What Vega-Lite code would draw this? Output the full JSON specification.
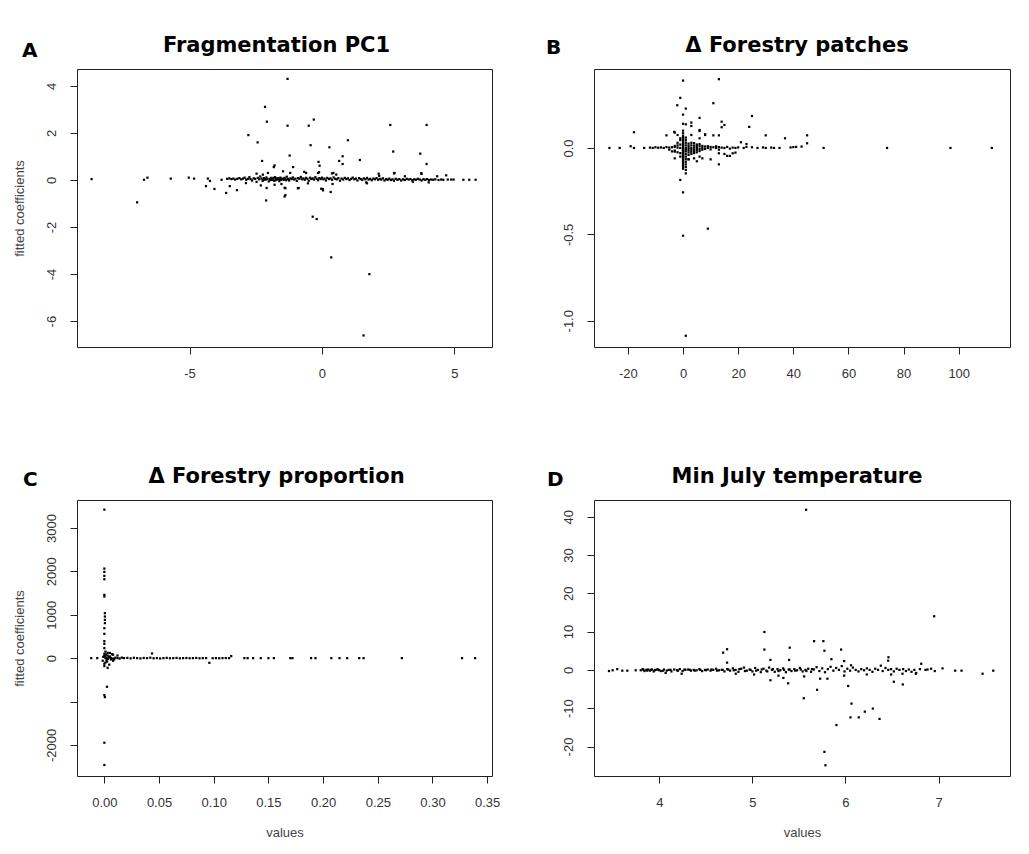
{
"$schema": "https://vega.github.io/schema/vega-lite/v6.json",
"background": "white",
"padding": {"left": 12, "top": 34, "right": 0, "bottom": 0},
"config": {
  "view": {"stroke": "#222", "strokeWidth": 1},
  "axis": {"grid": false, "domain": false, "tickColor": "#222", "tickSize": 7, "tickWidth": 1,
    "labelFont": "Liberation Sans", "labelFontSize": 13, "labelColor": "#333",
    "titleFont": "Liberation Sans", "titleFontSize": 13, "titleFontWeight": "normal", "titleColor": "#444"},
  "axisX": {"labelPadding": 13, "titlePadding": 17},
  "axisY": {"labelAngle": 270, "labelAlign": "center", "labelBaseline": "bottom", "labelPadding": 12, "titlePadding": 19},
  "title": {"font": "DejaVu Sans", "fontWeight": "bold", "fontSize": 21, "color": "black", "offset": 13},
  "point": {"shape": "square", "size": 5, "filled": true, "color": "black", "opacity": 1}
},
"columns": 2,
"spacing": {"column": 45, "row": 84},
"datasets": {
"A": [
{"x":-8.70,"y":0.04},{"x":-6.98,"y":-0.95},{"x":-6.72,"y":0.01},{"x":-6.59,"y":0.10},{"x":-5.71,"y":0.06},{"x":-5.03,"y":0.10},{"x":-4.83,"y":0.06},{"x":-4.31,"y":0.06},{"x":-4.23,"y":-0.04},{"x":-4.38,"y":-0.26},{"x":-4.06,"y":-0.38},{"x":-3.79,"y":0.01},{"x":-3.62,"y":-0.55},{"x":-3.48,"y":-0.26},{"x":-3.21,"y":-0.43},{"x":-2.78,"y":1.91},{"x":-2.43,"y":1.60},{"x":-2.26,"y":0.81},{"x":-2.15,"y":3.11},{"x":-2.08,"y":2.48},{"x":-2.11,"y":-0.87},{"x":-1.82,"y":0.55},{"x":-1.79,"y":0.62},{"x":-1.30,"y":4.30},{"x":-1.30,"y":2.31},{"x":-1.22,"y":1.04},{"x":-1.09,"y":0.55},{"x":-1.41,"y":-0.70},{"x":-1.41,"y":-0.33},{"x":-0.88,"y":-0.34},{"x":-0.50,"y":2.31},{"x":-0.43,"y":1.48},{"x":-0.31,"y":2.57},{"x":-0.35,"y":-1.56},{"x":-0.20,"y":-1.66},{"x":-0.13,"y":0.77},{"x":-0.09,"y":0.61},{"x":-0.03,"y":-0.37},{"x":0.04,"y":-0.44},{"x":0.28,"y":1.39},{"x":0.35,"y":-3.29},{"x":0.33,"y":-0.51},{"x":0.65,"y":0.81},{"x":0.78,"y":1.01},{"x":0.78,"y":0.68},{"x":0.98,"y":1.69},{"x":1.43,"y":0.85},{"x":1.57,"y":-6.61},{"x":1.79,"y":-4.00},{"x":2.58,"y":2.34},{"x":2.69,"y":1.21},{"x":2.72,"y":0.28},{"x":3.71,"y":1.12},{"x":3.76,"y":0.26},{"x":3.95,"y":2.34},{"x":3.95,"y":0.68},{"x":4.35,"y":0.16},{"x":4.69,"y":0.20},{"x":4.88,"y":0.02},{"x":4.97,"y":0.02},{"x":5.34,"y":0.01},{"x":5.56,"y":0.01},{"x":5.80,"y":0.01},
{"x":-2.47,"y":0.27},{"x":-2.23,"y":0.23},{"x":-2.04,"y":0.30},{"x":-1.47,"y":0.37},{"x":-2.87,"y":-0.13},{"x":-2.31,"y":-0.23},{"x":-2.09,"y":-0.34},{"x":-1.79,"y":-0.20},{"x":-1.53,"y":-0.17},{"x":-0.67,"y":0.35},{"x":-0.11,"y":0.33},{"x":0.43,"y":0.30},{"x":0.54,"y":0.23},{"x":1.67,"y":-0.10},{"x":2.16,"y":0.18},{"x":3.13,"y":0.16},{"x":3.43,"y":-0.07},{"x":4.03,"y":-0.10},
{"x":-1.38,"y":-0.35},{"x":-1.38,"y":-0.64},{"x":-0.91,"y":-0.35},{"x":0.03,"y":-0.38},{"x":0.40,"y":-0.17},{"x":-0.53,"y":-0.14},{"x":1.70,"y":-0.14},{"x":-1.20,"y":0.30},{"x":-0.60,"y":0.30},{"x":-0.15,"y":0.30},{"x":0.38,"y":0.28},{"x":2.14,"y":0.27},{"x":2.74,"y":0.30},{"x":3.75,"y":0.29},
{"x":-3.58,"y":0.05},{"x":-3.50,"y":0.07},{"x":-3.42,"y":0.04},{"x":-3.35,"y":0.06},{"x":-3.28,"y":0.02},{"x":-3.20,"y":0.05},{"x":-3.12,"y":0.08},{"x":-3.05,"y":0.03},{"x":-2.98,"y":0.06},{"x":-2.92,"y":0.10},{"x":-2.86,"y":0.01},{"x":-2.80,"y":0.05},{"x":-2.74,"y":0.12},{"x":-2.70,"y":0.04},{"x":-2.64,"y":-0.02},{"x":-2.58,"y":0.07},{"x":-2.52,"y":0.05},{"x":-2.47,"y":-0.08},{"x":-2.42,"y":0.09},{"x":-2.37,"y":0.03},{"x":-2.33,"y":0.15},{"x":-2.28,"y":0.06},{"x":-2.24,"y":-0.04},{"x":-2.19,"y":0.08},{"x":-2.15,"y":0.02},{"x":-2.10,"y":0.11},{"x":-2.06,"y":0.05},{"x":-2.01,"y":-0.06},{"x":-1.97,"y":0.04},{"x":-1.93,"y":0.09},{"x":-1.89,"y":0.01},{"x":-1.85,"y":0.07},{"x":-1.81,"y":-0.03},{"x":-1.77,"y":0.12},{"x":-1.73,"y":0.05},{"x":-1.69,"y":0.02},{"x":-1.65,"y":0.08},{"x":-1.61,"y":-0.05},{"x":-1.57,"y":0.10},{"x":-1.53,"y":0.04},{"x":-1.49,"y":0.06},{"x":-1.45,"y":0.00},{"x":-1.41,"y":0.09},{"x":-1.37,"y":0.03},{"x":-1.33,"y":0.14},{"x":-1.28,"y":0.05},{"x":-1.24,"y":-0.02},{"x":-1.19,"y":0.07},{"x":-1.14,"y":0.04},{"x":-1.10,"y":0.11},{"x":-1.05,"y":0.02},{"x":-1.00,"y":0.06},{"x":-0.95,"y":-0.04},{"x":-0.90,"y":0.08},{"x":-0.85,"y":0.05},{"x":-0.80,"y":0.13},{"x":-0.75,"y":0.03},{"x":-0.70,"y":0.07},{"x":-0.65,"y":0.01},{"x":-0.60,"y":0.09},{"x":-0.55,"y":0.05},{"x":-0.50,"y":-0.03},{"x":-0.45,"y":0.10},{"x":-0.40,"y":0.04},{"x":-0.35,"y":0.07},{"x":-0.30,"y":0.02},{"x":-0.25,"y":0.12},{"x":-0.20,"y":0.05},{"x":-0.15,"y":-0.01},{"x":-0.10,"y":0.08},{"x":-0.05,"y":0.04},{"x":0.00,"y":0.10},{"x":0.05,"y":0.03},{"x":0.10,"y":0.06},{"x":0.15,"y":-0.02},{"x":0.20,"y":0.09},{"x":0.26,"y":0.04},{"x":0.32,"y":0.07},{"x":0.38,"y":0.01},{"x":0.44,"y":0.11},{"x":0.50,"y":0.05},{"x":0.56,"y":0.03},{"x":0.62,"y":0.08},{"x":0.68,"y":-0.03},{"x":0.74,"y":0.06},{"x":0.80,"y":0.02},{"x":0.86,"y":0.09},{"x":0.92,"y":0.04},{"x":0.98,"y":0.07},{"x":1.04,"y":0.00},{"x":1.10,"y":0.05},{"x":1.16,"y":0.10},{"x":1.22,"y":0.03},{"x":1.28,"y":0.06},{"x":1.34,"y":-0.02},{"x":1.40,"y":0.08},{"x":1.46,"y":0.04},{"x":1.52,"y":0.01},{"x":1.58,"y":0.07},{"x":1.64,"y":0.03},{"x":1.70,"y":0.09},{"x":1.76,"y":0.02},{"x":1.82,"y":0.05},{"x":1.88,"y":-0.01},{"x":1.94,"y":0.06},{"x":2.00,"y":0.03},{"x":2.06,"y":0.08},{"x":2.12,"y":0.01},{"x":2.18,"y":0.05},{"x":2.24,"y":0.02},{"x":2.30,"y":0.07},{"x":2.36,"y":-0.02},{"x":2.42,"y":0.04},{"x":2.48,"y":0.01},{"x":2.54,"y":0.06},{"x":2.60,"y":0.00},{"x":2.66,"y":0.03},{"x":2.72,"y":-0.03},{"x":2.78,"y":0.05},{"x":2.85,"y":0.01},{"x":2.92,"y":0.04},{"x":2.99,"y":-0.02},{"x":3.06,"y":0.03},{"x":3.13,"y":0.00},{"x":3.20,"y":0.05},{"x":3.27,"y":0.02},{"x":3.34,"y":0.04},{"x":3.41,"y":-0.01},{"x":3.48,"y":0.03},{"x":3.55,"y":0.01},{"x":3.62,"y":0.05},{"x":3.69,"y":0.02},{"x":3.76,"y":-0.02},{"x":3.83,"y":0.03},{"x":3.90,"y":0.01},{"x":3.97,"y":0.04},{"x":4.04,"y":0.00},{"x":4.12,"y":0.02},{"x":4.20,"y":0.01},{"x":4.28,"y":0.03},{"x":4.40,"y":0.00},{"x":4.50,"y":0.02},{"x":4.58,"y":0.01},{"x":4.75,"y":0.02},
{"x":-1.95,"y":0.00},{"x":-1.87,"y":0.03},{"x":-1.75,"y":-0.01},{"x":-1.63,"y":0.04},{"x":-1.55,"y":0.01},{"x":-1.43,"y":0.05},{"x":-1.35,"y":-0.01},{"x":-1.25,"y":0.02},{"x":-2.12,"y":0.03},{"x":-2.22,"y":0.01},{"x":-1.83,"y":0.09},{"x":-1.71,"y":0.06}
],
"B": [
{"x":-26.7,"y":0},{"x":-23.0,"y":0},{"x":-19.0,"y":0.01},{"x":-17.8,"y":0.0},{"x":-17.8,"y":0.091},{"x":-14.1,"y":0.0},{"x":-6.0,"y":0.073},{"x":-3.2,"y":0.093},{"x":-2.1,"y":0.247},{"x":-1.0,"y":0.29},{"x":0,"y":0.39},{"x":0,"y":0.193},{"x":1,"y":0.228},{"x":0,"y":0.14},{"x":0,"y":0.10},{"x":1,"y":0.137},{"x":3,"y":0.075},{"x":3,"y":0.147},{"x":3,"y":0.127},{"x":6,"y":0.174},{"x":6,"y":0.104},{"x":6,"y":0.056},{"x":8,"y":0.079},{"x":11,"y":0.259},{"x":13,"y":0.398},{"x":11,"y":0.073},{"x":13,"y":0.073},{"x":14,"y":0.152},{"x":15,"y":0.133},{"x":14,"y":0.120},{"x":24,"y":0.122},{"x":25,"y":0.185},{"x":30,"y":0.073},{"x":37,"y":0.056},{"x":45,"y":0.073},{"x":45,"y":0.027},{"x":43,"y":0.008},{"x":40,"y":0.005},{"x":41,"y":0.006},{"x":51,"y":0},{"x":74,"y":0},{"x":97,"y":0},{"x":112,"y":0},
{"x":-3,"y":-0.06},{"x":-1,"y":-0.185},{"x":0,"y":-0.257},{"x":0,"y":-0.508},{"x":9,"y":-0.467},{"x":1,"y":-1.087},{"x":1,"y":-0.147},{"x":1,"y":-0.127},{"x":5,"y":-0.077},{"x":6,"y":-0.05},{"x":10,"y":-0.066},{"x":13,"y":-0.095},{"x":15,"y":-0.035},{"x":17,"y":-0.046},{"x":19,"y":-0.027},{"x":2,"y":-0.066},{"x":21,"y":0.033},{"x":23,"y":0.023},{"x":-3,"y":-0.021},{"x":-3,"y":0.089},{"x":-2,"y":0.075},{"x":-1,"y":0.056},{"x":6,"y":0.098},{"x":8,"y":0.075},{"x":7,"y":-0.06},{"x":2,"y":-0.065},{"x":4,"y":-0.06},{"x":13,"y":-0.031},{"x":16,"y":-0.046},{"x":18,"y":-0.031},
{"x":-12,"y":0.002},{"x":-11,"y":0.0},{"x":-10,"y":0.004},{"x":-9,"y":0.001},{"x":-8,"y":0.003},{"x":-7,"y":0.0},{"x":-6,"y":0.005},{"x":-5,"y":0.002},{"x":-5,"y":-0.01},{"x":-4,"y":0.004},{"x":-4,"y":-0.02},{"x":-3,"y":0.006},{"x":-3,"y":0.012},{"x":-3,"y":-0.015},{"x":-2,"y":0.002},{"x":-2,"y":0.015},{"x":-2,"y":-0.025},{"x":-2,"y":0.03},{"x":-1,"y":0.0},{"x":-1,"y":0.02},{"x":-1,"y":-0.03},{"x":-1,"y":0.045},{"x":-1,"y":-0.05},
{"x":0,"y":0.085},{"x":0,"y":0.07},{"x":0,"y":0.06},{"x":0,"y":0.05},{"x":0,"y":0.04},{"x":0,"y":0.03},{"x":0,"y":0.02},{"x":0,"y":0.01},{"x":0,"y":0.0},{"x":0,"y":-0.01},{"x":0,"y":-0.02},{"x":0,"y":-0.03},{"x":0,"y":-0.04},{"x":0,"y":-0.05},{"x":0,"y":-0.06},{"x":0,"y":-0.07},{"x":0,"y":-0.08},{"x":0,"y":-0.09},{"x":0,"y":-0.10},{"x":0,"y":-0.11},{"x":0,"y":-0.12},{"x":0,"y":0.015},{"x":0,"y":-0.005},{"x":0,"y":-0.015},{"x":0,"y":-0.025},{"x":0,"y":-0.035},{"x":0,"y":-0.045},{"x":0,"y":-0.055},
{"x":1,"y":0.06},{"x":1,"y":0.045},{"x":1,"y":0.03},{"x":1,"y":0.015},{"x":1,"y":0.0},{"x":1,"y":-0.01},{"x":1,"y":-0.02},{"x":1,"y":-0.035},{"x":1,"y":-0.05},{"x":1,"y":-0.065},{"x":1,"y":-0.08},{"x":1,"y":-0.095},{"x":1,"y":-0.11},
{"x":2,"y":0.025},{"x":2,"y":0.012},{"x":2,"y":0.0},{"x":2,"y":-0.012},{"x":2,"y":-0.025},{"x":2,"y":-0.04},
{"x":3,"y":0.03},{"x":3,"y":0.015},{"x":3,"y":0.0},{"x":3,"y":-0.01},{"x":3,"y":-0.022},{"x":3,"y":-0.035},
{"x":4,"y":0.028},{"x":4,"y":0.014},{"x":4,"y":0.002},{"x":4,"y":-0.01},{"x":4,"y":-0.02},{"x":4,"y":-0.03},
{"x":5,"y":0.02},{"x":5,"y":0.01},{"x":5,"y":0.0},{"x":5,"y":-0.012},{"x":5,"y":-0.025},
{"x":6,"y":0.022},{"x":6,"y":0.01},{"x":6,"y":-0.005},{"x":6,"y":-0.018},
{"x":7,"y":0.012},{"x":7,"y":0.0},{"x":7,"y":-0.01},{"x":8,"y":0.008},{"x":8,"y":-0.006},{"x":9,"y":0.01},{"x":9,"y":0.0},{"x":10,"y":0.006},{"x":10,"y":-0.008},{"x":11,"y":0.004},{"x":12,"y":0.0},{"x":12,"y":0.01},{"x":13,"y":0.005},{"x":13,"y":-0.01},{"x":14,"y":0.002},{"x":15,"y":0.0},{"x":16,"y":0.006},{"x":17,"y":-0.004},{"x":18,"y":0.002},{"x":19,"y":0.0},{"x":20,"y":0.003},{"x":22,"y":0.0},{"x":23,"y":0.006},{"x":25,"y":0.004},{"x":27,"y":0.0},{"x":29,"y":0.003},{"x":30,"y":0.0},{"x":32,"y":0.002},{"x":33,"y":0.0},{"x":35,"y":0.0},{"x":39,"y":0.003}
],
"C": [
{"x":0.0,"y":3422},{"x":0.0,"y":2064},{"x":0.0,"y":1987},{"x":0.0,"y":1895},{"x":0.0,"y":1818},{"x":0.0,"y":1458},{"x":0.0,"y":1420},{"x":0.0005,"y":1036},{"x":0.0005,"y":959},{"x":0.0005,"y":882},{"x":0.0005,"y":806},{"x":0.0,"y":690},{"x":0.0,"y":560},{"x":0.0,"y":391},{"x":0.0,"y":330},{"x":0.0,"y":230},{"x":0.0,"y":100},{"x":0.0024,"y":-660},{"x":0.0,"y":-852},{"x":0.0005,"y":-898},{"x":0.0,"y":-1949},{"x":0.0,"y":-2463},{"x":0.003,"y":-223},{"x":0.0,"y":-184},{"x":-0.012,"y":0},{"x":-0.0065,"y":0},
{"x":0.001,"y":150},{"x":0.0015,"y":80},{"x":0.0005,"y":40},{"x":0.002,"y":-40},{"x":0.001,"y":-100},{"x":0.0,"y":-130},{"x":0.003,"y":60},{"x":0.004,"y":20},{"x":0.0025,"y":-80},{"x":0.0035,"y":-20},{"x":-0.001,"y":30},{"x":-0.0015,"y":-60},{"x":0.001,"y":0},{"x":0.002,"y":10},{"x":0.0,"y":50},{"x":0.003,"y":120},{"x":0.0045,"y":-150},{"x":0.005,"y":40},{"x":0.006,"y":-30},{"x":0.007,"y":90},{"x":0.008,"y":-60},{"x":0.012,"y":60},{"x":0.008,"y":80},{"x":0.005,"y":120},{"x":0.009,"y":-30},
{"x":0.006,"y":5},{"x":0.008,"y":-10},{"x":0.010,"y":10},{"x":0.012,"y":0},{"x":0.014,"y":-8},{"x":0.016,"y":12},{"x":0.018,"y":0},{"x":0.021,"y":5},{"x":0.024,"y":-5},{"x":0.027,"y":8},{"x":0.030,"y":0},{"x":0.033,"y":-6},{"x":0.036,"y":4},{"x":0.039,"y":0},{"x":0.042,"y":10},{"x":0.045,"y":-4},{"x":0.048,"y":2},{"x":0.051,"y":-8},{"x":0.054,"y":0},{"x":0.057,"y":6},{"x":0.060,"y":-3},{"x":0.063,"y":0},{"x":0.066,"y":5},{"x":0.069,"y":-5},{"x":0.072,"y":0},{"x":0.075,"y":3},{"x":0.078,"y":-2},{"x":0.081,"y":0},{"x":0.084,"y":4},{"x":0.087,"y":-4},{"x":0.090,"y":0},{"x":0.093,"y":2},{"x":0.099,"y":-2},{"x":0.102,"y":0},{"x":0.105,"y":-3},{"x":0.108,"y":0},{"x":0.111,"y":2},{"x":0.114,"y":0},
{"x":0.0436,"y":108},{"x":0.096,"y":-108},{"x":0.116,"y":46},
{"x":0.128,"y":0},{"x":0.131,"y":0},{"x":0.136,"y":0},{"x":0.143,"y":0},{"x":0.150,"y":0},{"x":0.155,"y":0},{"x":0.170,"y":0},{"x":0.172,"y":0},{"x":0.189,"y":0},{"x":0.193,"y":0},{"x":0.2075,"y":0},{"x":0.215,"y":0},{"x":0.222,"y":0},{"x":0.233,"y":0},{"x":0.237,"y":0},{"x":0.272,"y":0},{"x":0.327,"y":0},{"x":0.339,"y":0}
],
"D": [
{"x":5.577,"y":41.8},{"x":6.953,"y":14.0},{"x":5.129,"y":9.9},{"x":5.129,"y":5.3},{"x":4.685,"y":4.5},{"x":4.728,"y":5.4},{"x":4.728,"y":1.9},{"x":5.401,"y":5.8},{"x":5.394,"y":2.6},{"x":5.194,"y":2.6},{"x":5.663,"y":7.5},{"x":5.763,"y":7.5},{"x":5.774,"y":5.0},{"x":5.953,"y":5.3},{"x":5.849,"y":2.8},{"x":5.986,"y":2.3},{"x":6.462,"y":3.3},{"x":6.459,"y":2.4},{"x":6.814,"y":1.6},{"x":7.043,"y":0.4},{"x":5.194,"y":-2.7},{"x":5.280,"y":-1.5},{"x":5.333,"y":-2.1},{"x":5.384,"y":-3.5},{"x":5.556,"y":-1.7},{"x":5.552,"y":-7.4},{"x":5.695,"y":-5.2},{"x":5.728,"y":-2.3},{"x":5.806,"y":-2.3},{"x":5.986,"y":-1.5},{"x":6.029,"y":-4.2},{"x":6.065,"y":-8.8},{"x":6.054,"y":-12.4},{"x":6.143,"y":-12.4},{"x":6.208,"y":-10.9},{"x":6.294,"y":-10.1},{"x":6.366,"y":-12.8},{"x":5.903,"y":-14.4},{"x":5.774,"y":-21.4},{"x":5.785,"y":-24.9},{"x":6.520,"y":-3.1},{"x":6.616,"y":-3.8},{"x":6.491,"y":-1.2},{"x":6.756,"y":-1.0},{"x":6.613,"y":-1.0},{"x":6.229,"y":-1.2},{"x":5.018,"y":-1.2},{"x":4.240,"y":-1.0},{"x":4.068,"y":-0.8},{"x":4.821,"y":-1.0},{"x":7.179,"y":-0.2},{"x":7.247,"y":-0.2},{"x":7.473,"y":-1.0},{"x":7.588,"y":-0.2},{"x":6.882,"y":0.1},{"x":6.96,"y":-0.3},{"x":6.38,"y":1.1},{"x":6.06,"y":1.2},{"x":3.459,"y":-0.3},{"x":3.498,"y":-0.1},{"x":3.548,"y":0.2},{"x":3.602,"y":-0.2},{"x":3.656,"y":-0.2},{"x":3.746,"y":-0.1},
{"x":3.80,"y":-0.1},{"x":3.82,"y":0.2},{"x":3.84,"y":-0.3},{"x":3.86,"y":0.0},{"x":3.88,"y":0.1},{"x":3.90,"y":-0.2},{"x":3.92,"y":0.1},{"x":3.94,"y":-0.4},{"x":3.96,"y":0.0},{"x":3.98,"y":0.2},{"x":4.00,"y":-0.1},{"x":4.02,"y":-0.3},{"x":4.05,"y":0.1},{"x":4.08,"y":-0.2},{"x":4.10,"y":0.0},{"x":4.13,"y":-0.4},{"x":4.16,"y":0.1},{"x":4.19,"y":-0.1},{"x":4.22,"y":0.2},{"x":4.25,"y":-0.3},{"x":4.28,"y":0.0},{"x":4.31,"y":0.1},{"x":4.34,"y":-0.2},{"x":4.37,"y":0.0},{"x":4.40,"y":-0.1},{"x":4.43,"y":0.2},{"x":4.46,"y":-0.3},{"x":4.49,"y":0.0},{"x":4.52,"y":0.1},{"x":4.55,"y":-0.2},{"x":4.58,"y":0.0},{"x":4.61,"y":0.3},{"x":4.64,"y":-0.1},{"x":4.67,"y":0.0},{"x":4.70,"y":-0.4},{"x":4.73,"y":0.2},{"x":4.76,"y":-0.2},{"x":4.79,"y":0.4},{"x":4.82,"y":0.0},{"x":4.85,"y":-0.5},{"x":4.88,"y":0.3},{"x":4.91,"y":0.6},{"x":4.94,"y":-0.2},{"x":4.97,"y":0.1},{"x":5.00,"y":-0.4},{"x":5.03,"y":0.5},{"x":5.06,"y":0.0},{"x":5.09,"y":-0.6},{"x":5.12,"y":0.3},{"x":5.15,"y":-0.2},{"x":5.18,"y":0.6},{"x":5.21,"y":0.0},{"x":5.24,"y":-0.5},{"x":5.27,"y":0.2},{"x":5.30,"y":-0.1},{"x":5.33,"y":0.4},{"x":5.36,"y":-0.6},{"x":5.39,"y":0.1},{"x":5.42,"y":-0.3},{"x":5.45,"y":0.2},{"x":5.48,"y":-0.1},{"x":5.51,"y":0.5},{"x":5.54,"y":-0.4},{"x":5.57,"y":0.0},{"x":5.60,"y":0.3},{"x":5.63,"y":-0.5},{"x":5.66,"y":0.1},{"x":5.69,"y":0.7},{"x":5.72,"y":-0.3},{"x":5.75,"y":0.4},{"x":5.78,"y":-0.6},{"x":5.81,"y":0.2},{"x":5.84,"y":0.8},{"x":5.87,"y":-0.2},{"x":5.90,"y":0.5},{"x":5.93,"y":0.0},{"x":5.96,"y":1.0},{"x":5.99,"y":-0.4},{"x":6.02,"y":0.3},{"x":6.05,"y":-0.2},{"x":6.08,"y":0.6},{"x":6.11,"y":0.0},{"x":6.14,"y":-0.4},{"x":6.17,"y":0.2},{"x":6.20,"y":-0.1},{"x":6.23,"y":0.4},{"x":6.26,"y":0.0},{"x":6.29,"y":-0.5},{"x":6.32,"y":0.3},{"x":6.35,"y":0.0},{"x":6.40,"y":-0.3},{"x":6.43,"y":0.5},{"x":6.46,"y":0.0},{"x":6.49,"y":0.2},{"x":6.52,"y":-0.4},{"x":6.55,"y":0.3},{"x":6.58,"y":0.0},{"x":6.62,"y":0.2},{"x":6.65,"y":-0.3},{"x":6.68,"y":0.1},{"x":6.71,"y":-0.5},{"x":6.74,"y":0.0},{"x":6.76,"y":-0.8},{"x":6.80,"y":0.2},{"x":6.86,"y":0.0},{"x":6.92,"y":0.3},
{"x":3.83,"y":0.0},{"x":3.87,"y":-0.2},{"x":3.91,"y":0.0},{"x":3.95,"y":-0.1},{"x":3.99,"y":0.0},{"x":4.04,"y":-0.2},{"x":4.12,"y":0.0},{"x":4.20,"y":-0.2},{"x":4.27,"y":0.1},{"x":4.33,"y":0.0},{"x":4.38,"y":-0.2},{"x":4.44,"y":0.0},{"x":4.50,"y":-0.1},{"x":4.56,"y":0.1},{"x":4.62,"y":-0.2},{"x":4.68,"y":0.0},{"x":4.74,"y":0.1},{"x":4.80,"y":-0.1},{"x":4.86,"y":0.2},{"x":4.92,"y":-0.3},{"x":4.98,"y":0.0},{"x":5.04,"y":-0.2},{"x":5.10,"y":0.1},{"x":5.16,"y":-0.4},{"x":5.22,"y":0.2},{"x":5.28,"y":-0.3},{"x":5.34,"y":0.0},{"x":5.40,"y":0.1},{"x":5.46,"y":-0.2},{"x":5.52,"y":0.1},{"x":5.58,"y":-0.3},{"x":5.64,"y":0.2}
]
},
"concat": [
{"title": {"text": "A", "anchor": "start", "frame": "group", "fontSize": 20, "dy": 39, "dx": -55},
 "vconcat": [{
  "title": {"text": "Fragmentation PC1", "dx": -8},
  "width": 415, "height": 278,
  "data": {"name": "A"},
  "mark": {"type": "point"},
  "encoding": {
    "x": {"field": "x", "type": "quantitative", "scale": {"domain": [-9.25, 6.42], "nice": false, "zero": false},
      "axis": {"title": null, "values": [-5, 0, 5], "labelExpr": "replace(datum.label, '\u2212', '-')"}},
    "y": {"field": "y", "type": "quantitative", "scale": {"domain": [-7.1, 4.72], "nice": false, "zero": false},
      "axis": {"title": "fitted coefficients", "values": [-6, -4, -2, 0, 2, 4], "labelExpr": "replace(datum.label, '\u2212', '-')"}}
  }
 }]
},
{"title": {"text": "B", "anchor": "start", "frame": "group", "fontSize": 20, "dy": 36, "dx": -48},
 "vconcat": [{
  "title": {"text": "Δ Forestry patches", "dx": -5},
  "width": 416, "height": 278,
  "data": {"name": "B"},
  "mark": {"type": "point"},
  "encoding": {
    "x": {"field": "x", "type": "quantitative", "scale": {"domain": [-32.3, 118.6], "nice": false, "zero": false},
      "axis": {"title": null, "values": [-20, 0, 20, 40, 60, 80, 100], "labelExpr": "replace(datum.label, '\u2212', '-')"}},
    "y": {"field": "y", "type": "quantitative", "scale": {"domain": [-1.152, 0.457], "nice": false, "zero": false},
      "axis": {"title": null, "values": [-1, -0.5, 0], "format": ".1f", "labelExpr": "replace(datum.label, '\u2212', '-')"}}
  }
 }]
},
{"title": {"text": "C", "anchor": "start", "frame": "group", "fontSize": 20, "dy": 37, "dx": -54},
 "vconcat": [{
  "title": {"text": "Δ Forestry proportion", "dx": -8},
  "width": 415, "height": 276,
  "data": {"name": "C"},
  "mark": {"type": "point"},
  "encoding": {
    "x": {"field": "x", "type": "quantitative", "scale": {"domain": [-0.025, 0.3544], "nice": false, "zero": false},
      "axis": {"title": "values", "values": [0, 0.05, 0.1, 0.15, 0.2, 0.25, 0.3, 0.35], "format": ".2f"}},
    "y": {"field": "y", "type": "quantitative", "scale": {"domain": [-2716, 3644], "nice": false, "zero": false},
      "axis": {"title": "fitted coefficients", "values": [-2000, -1000, 0, 1000, 2000, 3000], "format": "d", "labelExpr": "datum.value == -1000 ? '' : replace(datum.label, '\u2212', '-')"}}
  }
 }]
},
{"title": {"text": "D", "anchor": "start", "frame": "group", "fontSize": 20, "dy": 37, "dx": -47},
 "vconcat": [{
  "title": {"text": "Min July temperature", "dx": -5},
  "width": 416, "height": 276,
  "data": {"name": "D"},
  "mark": {"type": "point"},
  "encoding": {
    "x": {"field": "x", "type": "quantitative", "scale": {"domain": [3.298, 7.768], "nice": false, "zero": false},
      "axis": {"title": "values", "values": [4, 5, 6, 7]}},
    "y": {"field": "y", "type": "quantitative", "scale": {"domain": [-27.7, 44.35], "nice": false, "zero": false},
      "axis": {"title": null, "values": [-20, -10, 0, 10, 20, 30, 40], "labelExpr": "replace(datum.label, '\u2212', '-')"}}
  }
 }]
}
]
}
